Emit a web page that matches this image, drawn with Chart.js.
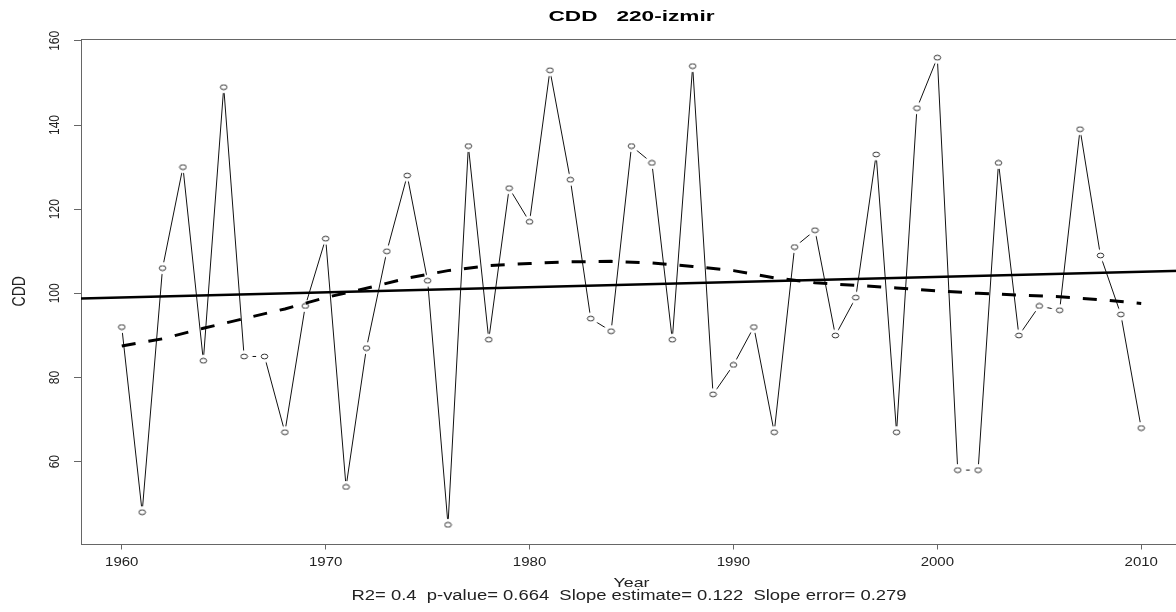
<!DOCTYPE html>
<html>
<head>
<meta charset="utf-8">
<title>CDD 220-izmir</title>
<script src="https://cdn.jsdelivr.net/npm/chart.js@4.4.1/dist/chart.umd.min.js"></script>
<style>
    html, body { margin: 0; padding: 0; background: #fff; overflow: hidden; }
    #wrap { position: relative; width: 1190px; height: 612px; }
</style>
</head>
<body>
<div id="wrap"><canvas id="cdd-chart" width="1190" height="612"></canvas></div>
<script>
// Yearly CDD values
const years = [1960, 1961, 1962, 1963, 1964, 1965, 1966, 1967, 1968, 1969,
               1970, 1971, 1972, 1973, 1974, 1975, 1976, 1977, 1978, 1979,
               1980, 1981, 1982, 1983, 1984, 1985, 1986, 1987, 1988, 1989,
               1990, 1991, 1992, 1993, 1994, 1995, 1996, 1997, 1998, 1999,
               2000, 2001, 2002, 2003, 2004, 2005, 2006, 2007, 2008, 2009,
               2010];
const cddValues = [92, 48, 106, 130, 84, 149, 85, 85, 67, 97,
                   113, 54, 87, 110, 128, 103, 45, 135, 89, 125,
                   117, 153, 127, 94, 91, 135, 131, 89, 154, 76,
                   83, 92, 67, 111, 115, 90, 99, 133, 67, 144,
                   156, 58, 58, 131, 90, 97, 96, 139, 109, 95,
                   68];

// Linear trend (solid) end points
const trendYears = [1958, 2012];
const trendValues = [98.8, 105.4];

// Smoothed curve (dashed)
const smoothYears = [1960, 1962, 1964, 1966, 1968, 1970, 1972, 1974, 1976, 1978,
                     1980, 1982, 1984, 1986, 1988, 1990, 1992, 1994, 1996, 1998,
                     2000, 2002, 2004, 2006, 2008, 2010];
const smoothValues = [87.5, 89.2, 91.7, 94.0, 96.3, 99.0, 101.2, 103.6, 105.4, 106.6,
                      107.1, 107.5, 107.6, 107.2, 106.4, 105.4, 103.7, 102.5, 101.9, 101.3,
                      100.6, 100.0, 99.6, 99.2, 98.5, 97.6];

// Axis ticks
const xTicks = [1960, 1970, 1980, 1990, 2000, 2010];
const yTicks = [60, 80, 100, 120, 140, 160];

const chartTitle = 'CDD   220-izmir';
const xTitle = 'Year';
const yTitle = 'CDD';
const statsLine = 'R2= 0.4  p-value= 0.664  Slope estimate= 0.122  Slope error= 0.279';

const FONT = '"Liberation Sans", Arial, sans-serif';
const STRETCH = 1.25; // the reference text is drawn a bit wide

function toPoints(xs, ys) {
    return xs.map((x, i) => ({ x: x, y: ys[i] }));
}

// Small canvas with an ellipse, used as a point style
function ellipseMarker(rx, ry, fill, stroke) {
    const c = document.createElement('canvas');
    c.width = Math.ceil(rx * 2 + 2);
    c.height = Math.ceil(ry * 2 + 2);
    const g = c.getContext('2d');
    g.beginPath();
    g.ellipse(c.width / 2, c.height / 2, rx, ry, 0, 0, Math.PI * 2);
    g.fillStyle = fill;
    g.fill();
    if (stroke) {
        g.strokeStyle = stroke;
        g.lineWidth = 1;
        g.stroke();
    }
    return c;
}

const gapMarker = ellipseMarker(8.5, 6, '#fff', null);
const openMarker = ellipseMarker(3.3, 2.4, '#fff', '#333');

// Draw centred text, stretched horizontally
function wideText(ctx, text, x, y, font, opts) {
    ctx.save();
    ctx.font = font;
    ctx.translate(x, y);
    let sx = STRETCH;
    if (opts.width) sx = opts.width / ctx.measureText(text).width;
    ctx.scale(sx, 1);
    if (opts.rotate) ctx.rotate(-Math.PI / 2);
    ctx.textAlign = 'center';
    ctx.textBaseline = opts.baseline || 'middle';
    ctx.fillStyle = opts.color || '#000';
    ctx.fillText(text, 0, 0);
    ctx.restore();
}

// Box round the plot plus all the text (R style)
const rPlotDecor = {
    id: 'rPlotDecor',
    beforeDatasetsDraw(chart) {
        const ctx = chart.ctx;
        const a = chart.chartArea;
        ctx.save();
        ctx.strokeStyle = '#666';
        ctx.lineWidth = 1;
        ctx.strokeRect(Math.round(a.left) + 0.5, Math.round(a.top) + 0.5,
                       Math.round(a.right - a.left), Math.round(a.bottom - a.top));
        ctx.restore();
    },
    afterDraw(chart) {
        const ctx = chart.ctx;
        const a = chart.chartArea;
        const xs = chart.scales.x;
        const ys = chart.scales.y;
        const midX = (a.left + a.right) / 2;

        wideText(ctx, chartTitle, midX, 17, 'bold 14px ' + FONT, { width: 166 });

        xTicks.forEach(v => {
            wideText(ctx, String(v), xs.getPixelForValue(v), 562.5, '12px ' + FONT, { color: '#222' });
        });
        yTicks.forEach(v => {
            wideText(ctx, String(v), 55, ys.getPixelForValue(v), '12px ' + FONT, { rotate: true, color: '#222' });
        });

        wideText(ctx, yTitle, 20, (a.top + a.bottom) / 2, '14px ' + FONT, { rotate: true, color: '#222' });
        wideText(ctx, xTitle, midX, 587, '13px ' + FONT, { width: 36, baseline: 'alphabetic', color: '#222' });
        wideText(ctx, statsLine, 629, 600, '14px ' + FONT, { width: 555, baseline: 'alphabetic', color: '#222' });
    }
};

const ctx = document.getElementById('cdd-chart').getContext('2d');

new Chart(ctx, {
    type: 'line',
    data: {
        datasets: [
            {
                // connecting line
                data: toPoints(years, cddValues),
                borderColor: '#111',
                borderWidth: 1,
                pointRadius: 0,
                tension: 0,
                order: 4
            },
            {
                // white gap round each point, like type="b"
                data: toPoints(years, cddValues),
                showLine: false,
                pointStyle: gapMarker,
                pointRadius: 6,
                order: 3
            },
            {
                // open circles
                data: toPoints(years, cddValues),
                showLine: false,
                pointStyle: openMarker,
                pointRadius: 3,
                order: 2
            },
            {
                // linear trend
                data: toPoints(trendYears, trendValues),
                borderColor: '#000',
                borderWidth: 2.5,
                pointRadius: 0,
                order: 1
            },
            {
                // smoothed curve
                data: toPoints(smoothYears, smoothValues),
                borderColor: '#000',
                borderWidth: 3,
                borderDash: [14, 13],
                pointRadius: 0,
                tension: 0,
                order: 0
            }
        ]
    },
    options: {
        responsive: false,
        animation: false,
        devicePixelRatio: 1,
        events: [],
        layout: { padding: { top: 39, right: 8, left: 0, bottom: 0 } },
        plugins: {
            legend: { display: false },
            tooltip: { enabled: false },
            title: { display: false }
        },
        scales: {
            x: {
                type: 'linear',
                min: 1958,
                max: 2012,
                afterBuildTicks: scale => { scale.ticks = xTicks.map(v => ({ value: v })); },
                afterFit: scale => { scale.height = 68.5; },
                ticks: { display: false },
                border: { display: false },
                grid: {
                    drawOnChartArea: false,
                    drawTicks: true,
                    tickLength: 6,
                    color: '#666',
                    lineWidth: 1
                }
            },
            y: {
                type: 'linear',
                min: 40.56,
                max: 160.44,
                afterBuildTicks: scale => { scale.ticks = yTicks.map(v => ({ value: v })); },
                afterFit: scale => { scale.width = 81; },
                ticks: { display: false },
                border: { display: false },
                grid: {
                    drawOnChartArea: false,
                    drawTicks: true,
                    tickLength: 7,
                    color: '#666',
                    lineWidth: 1
                }
            }
        }
    },
    plugins: [rPlotDecor]
});
</script>
</body>
</html>
